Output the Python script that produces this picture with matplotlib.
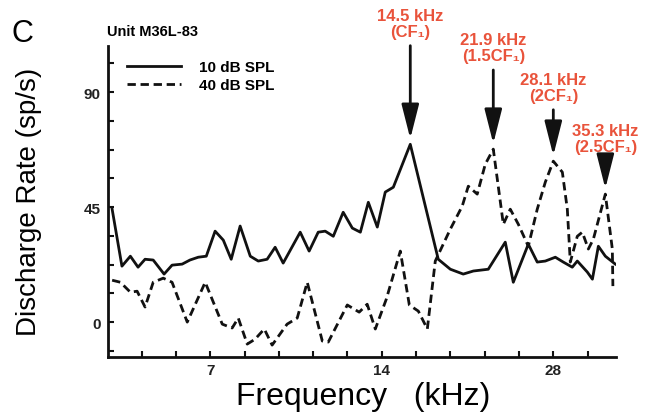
import numpy as np
import matplotlib.pyplot as plt
from matplotlib.ticker import FixedLocator, MultipleLocator, NullFormatter

plt.rcParams['font.family'] = ['Liberation Sans', 'DejaVu Sans']

# rate-place profile, unit M36L-83 (frequency in kHz, rate in sp/s)
freq_10db = [4.71, 4.90, 5.07, 5.23, 5.38, 5.56, 5.81, 6.00, 6.25, 6.45, 6.67, 6.89,
             7.14, 7.38, 7.62, 7.90, 8.23, 8.50, 8.81, 9.10, 9.40, 10.07, 10.44, 10.83,
             11.14, 11.51, 11.98, 12.43, 12.84, 13.26, 13.75, 14.20, 14.67, 15.71, 17.59,
             18.47, 19.46, 20.27, 21.53, 23.06, 23.82, 25.31, 26.24, 27.11, 28.23, 29.15,
             30.23, 30.85, 32.12, 32.79, 33.59, 34.55, 35.97]
rate_10db = [44.2, 21.9, 25.8, 21.5, 24.6, 24.3, 18.8, 22.3, 22.7, 24.3, 25.4, 25.8,
             35.6, 32.1, 24.6, 37.6, 25.8, 23.9, 24.6, 29.3, 23.1, 35.2, 27.8, 35.2,
             35.6, 33.6, 43.0, 36.8, 35.2, 46.9, 37.2, 50.9, 52.8, 69.6, 24.6,
             20.7, 18.8, 20.0, 20.7, 31.3, 15.6, 30.5, 23.5, 23.9, 25.4, 23.5,
             21.5, 23.9, 19.6, 16.8, 29.7, 25.8, 22.7]

freq_40db = [4.71, 4.87, 5.07, 5.21, 5.38, 5.56, 5.79, 6.00, 6.38, 6.86, 7.35, 7.65,
             7.84, 8.13, 8.39, 8.71, 8.99, 9.55, 9.95, 10.36, 11.01, 11.28, 12.18, 12.78,
             13.20, 13.64, 14.26, 15.09, 15.65, 16.23, 16.83, 17.38, 18.47, 19.38, 19.86,
             20.59, 21.27, 21.97, 22.88, 23.53, 24.31, 25.31, 26.24, 27.11, 28.00, 29.04,
             29.63, 29.99, 30.85, 31.48, 32.26, 32.92, 34.55, 35.54, 35.62]
rate_40db = [16.4, 15.6, 11.7, 12.1, 5.9, 15.6, 17.2, 15.6, 0.0, 15.6, -0.8, -2.3,
             1.6, -8.6, -6.7, -2.7, -9.0, -0.8, 1.6, 15.6, -7.4, -7.8, 6.7, 3.9,
             7.0, -2.7, 9.0, 27.8, 6.7, 4.3, -2.7, 23.9, 36.4, 45.4, 53.2,
             50.1, 61.8, 67.7, 38.3, 44.2, 38.3, 29.7, 44.2, 54.8, 63.0, 58.7,
             44.2, 23.5, 33.6, 35.2, 28.6, 32.5, 50.1, 28.6, 14.1]

peak_freqs = [14.5, 21.9, 28.1, 35.3]
peak_names = ['CF₁', '1.5CF₁', '2CF₁', '2.5CF₁']
peak_curve = ['10', '40', '40', '40']
label_offsets = [76, 62, 42, 29]  # points above the peak

red = '#e9533b'

fig = plt.figure(figsize=(6.5, 4.14), dpi=100)
ax = fig.add_axes([0.166, 0.135, 0.782, 0.751])

ax.plot(freq_10db, rate_10db, color='#111111', lw=2.0, label='10 dB SPL')
ax.plot(freq_40db, rate_40db, color='#111111', lw=2.0, ls=(0, (3.0, 1.7)),
        label='40 dB SPL')

ax.set_xscale('log', base=2)
ax.set_xlim(4.63, 36.1)
ax.set_ylim(-13.7, 108)

ax.xaxis.set_major_locator(FixedLocator([7, 14, 28]))
ax.xaxis.set_major_formatter(plt.FuncFormatter(lambda v, p: f'{v:g}'))
ax.xaxis.set_minor_locator(FixedLocator(7 * 2 ** (np.arange(-2, 12) / 5)))
ax.xaxis.set_minor_formatter(NullFormatter())
ax.yaxis.set_major_locator(MultipleLocator(45))
ax.yaxis.set_minor_locator(MultipleLocator(11.25))

for s in ['top', 'right']:
    ax.spines[s].set_visible(False)
for s in ['left', 'bottom']:
    ax.spines[s].set_linewidth(2.0)
    ax.spines[s].set_color('#111111')

ax.tick_params(which='both', direction='in', length=4, width=1.5, color='#111111')
ax.tick_params(axis='y', which='major', pad=5)
ax.tick_params(axis='x', which='major', pad=4)
for lab in ax.get_xticklabels() + ax.get_yticklabels():
    lab.set_fontsize(11)
    lab.set_fontweight('bold')
    lab.set_color('#222222')

ax.set_xlabel('Frequency   (kHz)', fontsize=23)
ax.set_ylabel('Discharge Rate (sp/s)', fontsize=20)
ax.xaxis.set_label_coords(0.502, -0.077)
ax.yaxis.set_label_coords(-0.13, 0.502)

ax.legend(loc='upper left', bbox_to_anchor=(0.038, 0.955), frameon=False,
          borderpad=0, borderaxespad=0, handlelength=3.5, handletextpad=1.2,
          labelspacing=0.25, prop={'size': 11, 'weight': 'bold'})

# arrows point at the local maximum closest to each labelled frequency
curves = {'10': (np.array(freq_10db), np.array(rate_10db)),
          '40': (np.array(freq_40db), np.array(rate_40db))}
for f0, name, key, off in zip(peak_freqs, peak_names, peak_curve, label_offsets):
    fx, ry = curves[key]
    win = np.abs(np.log2(fx / f0)) < 0.15
    i = np.argmax(np.where(win, ry, -np.inf))
    ax.annotate(f'{f0} kHz\n({name})', xy=(fx[i], ry[i]), xytext=(0, off),
                textcoords='offset points', ha='center', va='bottom',
                color=red, fontsize=12, fontweight='bold', linespacing=1.1,
                arrowprops=dict(arrowstyle='-|>,head_length=1.5,head_width=0.38',
                                mutation_scale=14, color='#111111', lw=2.0,
                                shrinkA=3, shrinkB=4))

fig.text(0.018, 0.955, 'C', fontsize=22, va='top', ha='left')
fig.text(0.165, 0.905, 'Unit M36L-83', fontsize=10.5, fontweight='bold',
         va='bottom', ha='left')

fig.savefig('out.png', dpi=100)
